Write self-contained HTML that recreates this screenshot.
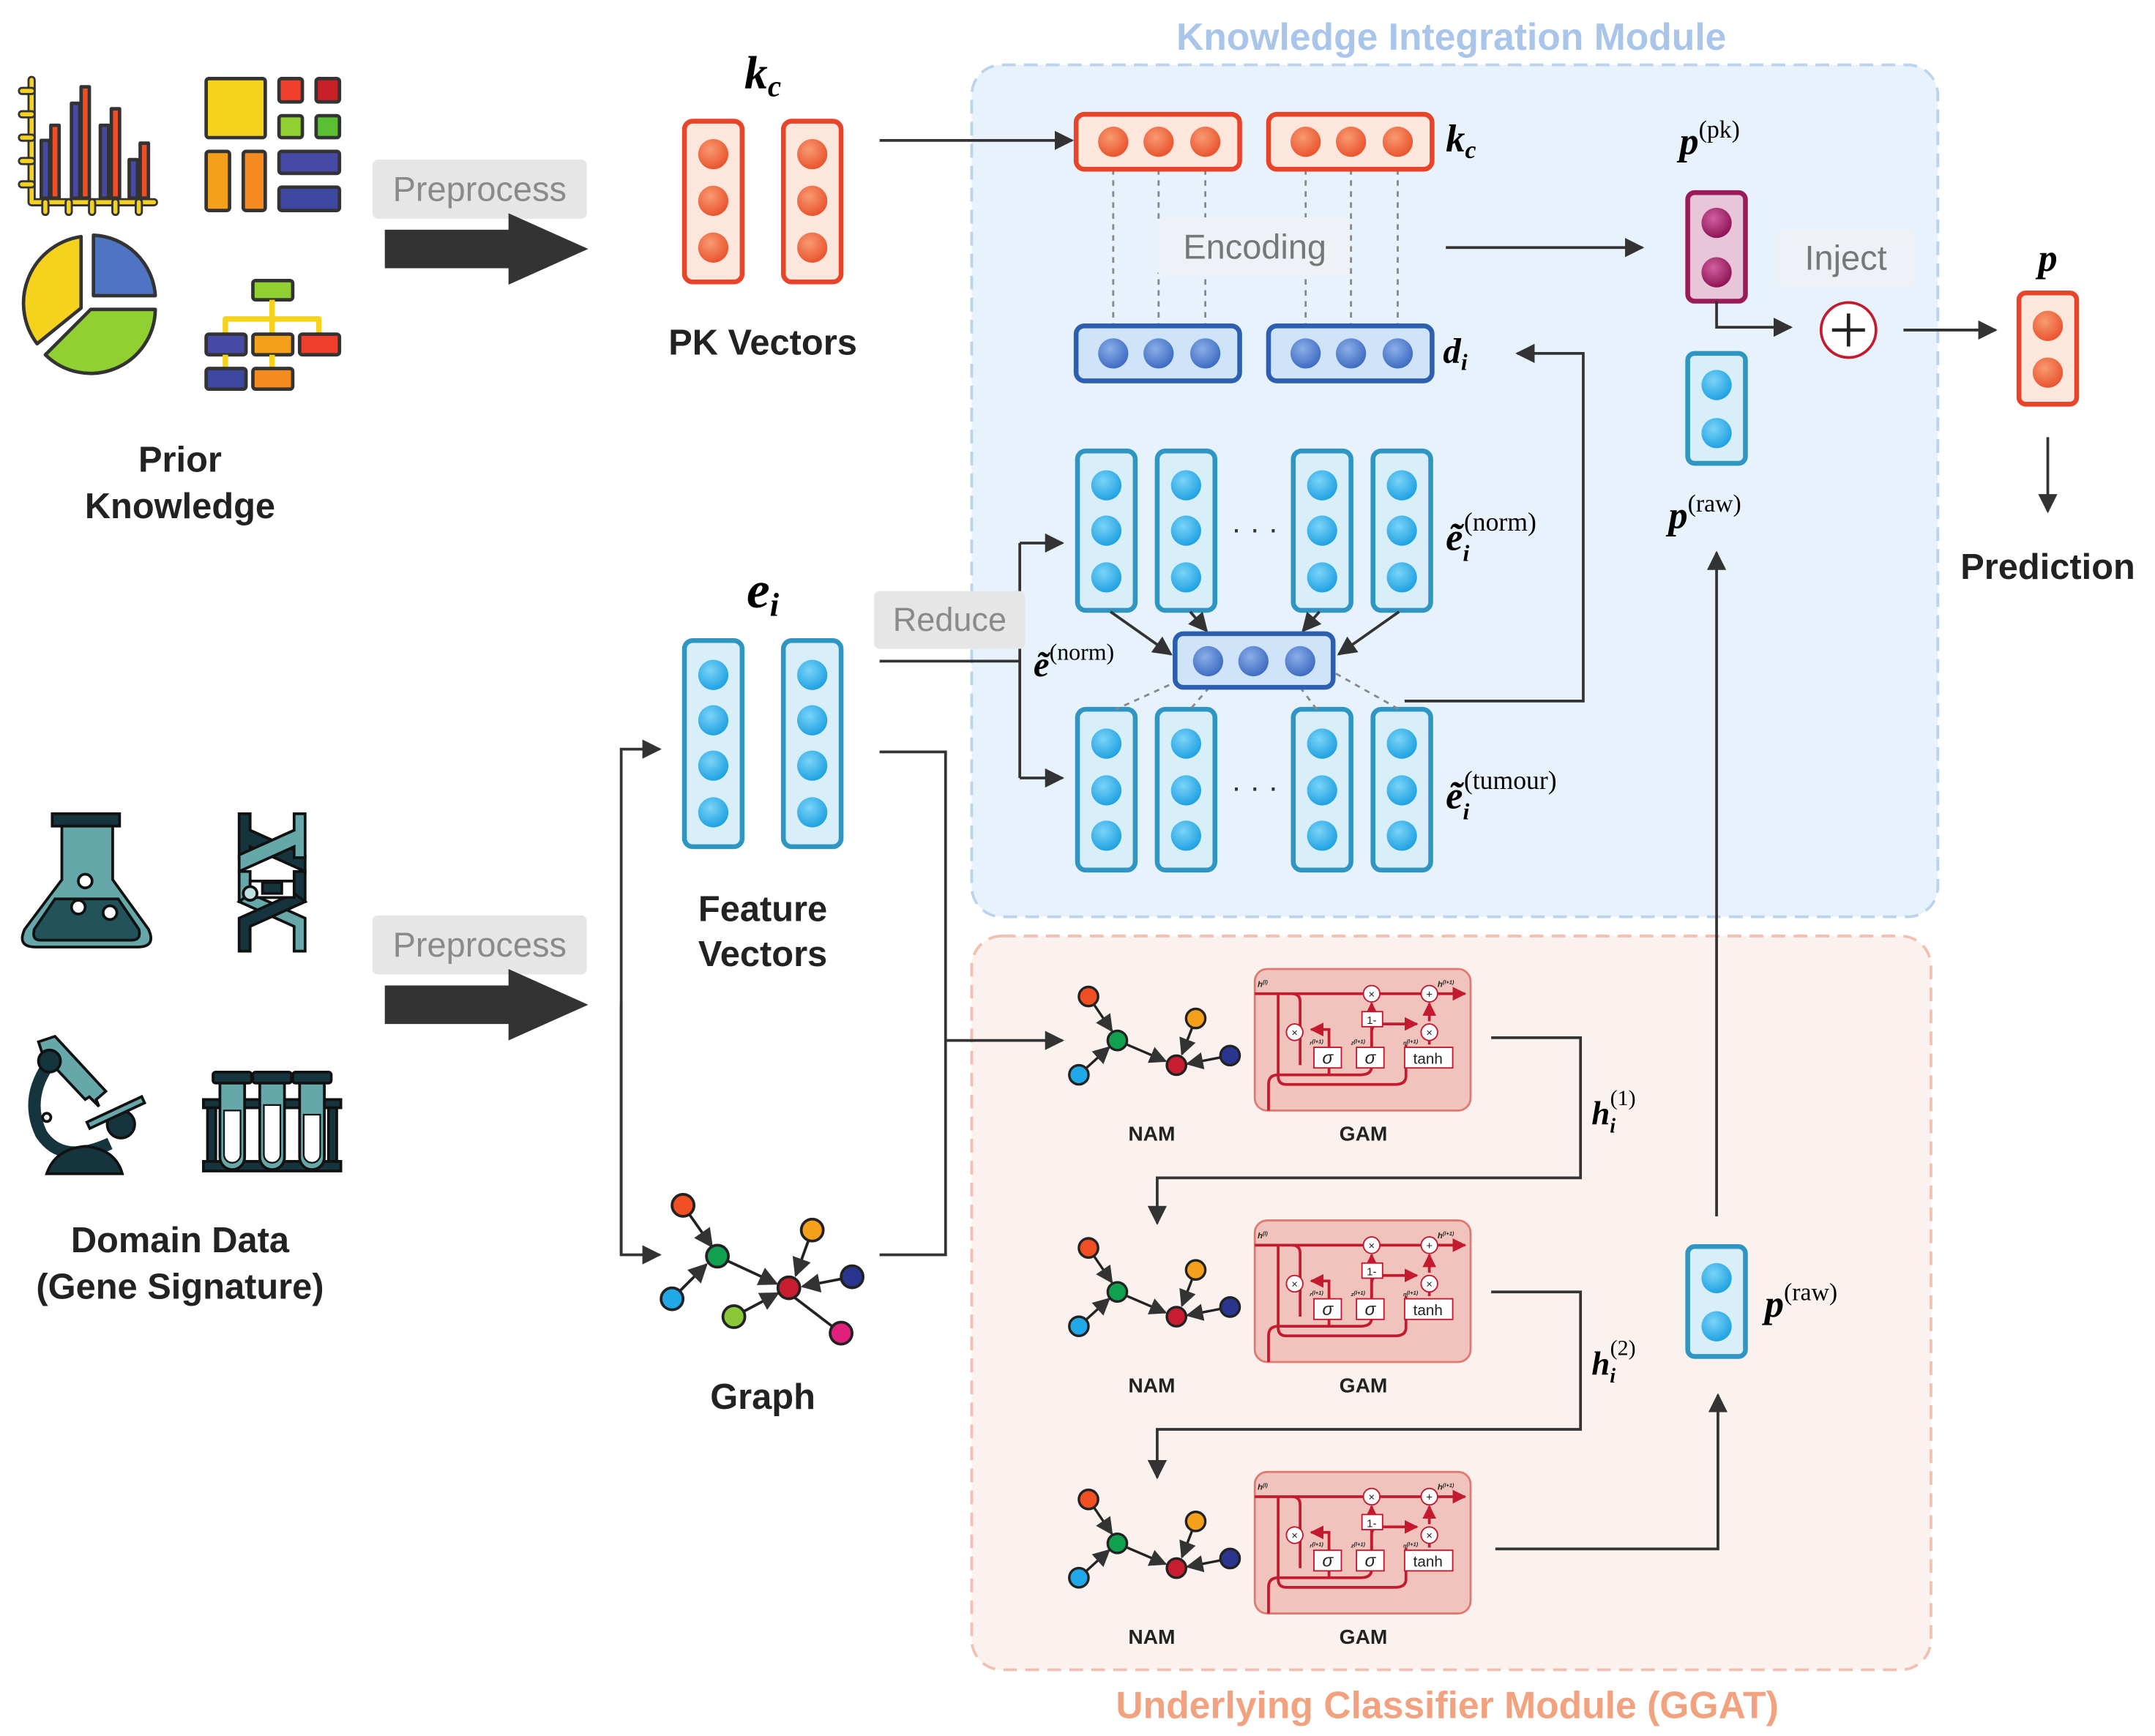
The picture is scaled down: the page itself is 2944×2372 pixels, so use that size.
<!DOCTYPE html>
<html><head><meta charset="utf-8"><style>
html,body{margin:0;padding:0;background:#fff}
svg{display:block}
text{font-family:"Liberation Sans",sans-serif}
.s{font-family:"Liberation Serif",serif;font-style:italic;font-weight:bold}
.sr{font-family:"Liberation Serif",serif}
</style></head><body>
<svg width="2944" height="2372" viewBox="0 0 1568 1263" xmlns="http://www.w3.org/2000/svg">
<defs>
<marker id="ar" viewBox="0 0 10 10" refX="9" refY="5" markerWidth="7" markerHeight="7" orient="auto"><path d="M0,0L10,5L0,10z" fill="#333"/></marker>
<marker id="rr" viewBox="0 0 10 10" refX="9" refY="5" markerWidth="5" markerHeight="5" orient="auto"><path d="M0,0L10,5L0,10z" fill="#c41a30"/></marker>
<radialGradient id="go" cx="0.4" cy="0.35" r="0.7"><stop offset="0" stop-color="#f89a70"/><stop offset="1" stop-color="#e8502a"/></radialGradient>
<radialGradient id="gb" cx="0.4" cy="0.35" r="0.7"><stop offset="0" stop-color="#7ad4f8"/><stop offset="1" stop-color="#1a9ee0"/></radialGradient>
<radialGradient id="gd" cx="0.4" cy="0.35" r="0.7"><stop offset="0" stop-color="#8aaee8"/><stop offset="1" stop-color="#3a68c0"/></radialGradient>
<radialGradient id="gp" cx="0.4" cy="0.35" r="0.7"><stop offset="0" stop-color="#d060a0"/><stop offset="1" stop-color="#8a1050"/></radialGradient>
</defs>

<!-- modules -->
<rect x="707" y="47" width="703" height="620" rx="22" fill="#e8f2fc" stroke="#bcd3ee" stroke-width="2" stroke-dasharray="10 6"/>
<text x="1056" y="36" text-anchor="middle" font-size="27.5" font-weight="bold" fill="#a9c5ea">Knowledge Integration Module</text>
<rect x="707" y="681" width="698" height="534" rx="22" fill="#fbf2ef" stroke="#f2bfb0" stroke-width="2" stroke-dasharray="10 6"/>
<text x="1053" y="1250" text-anchor="middle" font-size="27.5" font-weight="bold" fill="#f2a27e">Underlying Classifier Module (GGAT)</text>

<!-- Prior knowledge icons -->
<g stroke="#333" stroke-width="2.5" stroke-linejoin="round">
<path d="M23,58V147H112" fill="none" stroke="#333" stroke-width="6" stroke-linecap="round"/>
<path d="M23,58V147H112" fill="none" stroke="#f5d31c" stroke-width="3" stroke-linecap="round"/>
<path d="M16,66H23M16,83H23M16,100H23M16,117H23M16,134H23M33,147V154M50,147V154M67,147V154M84,147V154M101,147V154" stroke="#333" stroke-width="6" stroke-linecap="round"/>
<path d="M16,66H23M16,83H23M16,100H23M16,117H23M16,134H23M33,147V154M50,147V154M67,147V154M84,147V154M101,147V154" stroke="#f5d31c" stroke-width="3" stroke-linecap="round"/>
<rect x="30" y="102" width="6" height="42" fill="#464aa4"/>
<rect x="37" y="91" width="6" height="53" fill="#f04e23"/>
<rect x="52" y="75" width="6" height="69" fill="#464aa4"/>
<rect x="59" y="63" width="6" height="81" fill="#f04e23"/>
<rect x="73" y="91" width="6" height="53" fill="#464aa4"/>
<rect x="81" y="79" width="6" height="65" fill="#f04e23"/>
<rect x="94" y="116" width="6" height="28" fill="#464aa4"/>
<rect x="102" y="104" width="6" height="40" fill="#f04e23"/>
<rect x="150" y="57" width="43" height="43" rx="2" fill="#f5d31c"/>
<rect x="203" y="57" width="17" height="17" rx="2" fill="#f0402c"/>
<rect x="230" y="57" width="17" height="17" rx="2" fill="#c82026"/>
<rect x="203" y="84" width="17" height="16" rx="2" fill="#90d030"/>
<rect x="230" y="84" width="17" height="16" rx="2" fill="#5bbf32"/>
<rect x="150" y="110" width="17" height="43" rx="2" fill="#f5a01a"/>
<rect x="177" y="110" width="16" height="43" rx="2" fill="#f58a1e"/>
<rect x="203" y="110" width="44" height="16" rx="2" fill="#474aa4"/>
<rect x="203" y="136" width="44" height="17" rx="2" fill="#3e48a0"/>
<path d="M59,224 V172 A49,49 0 0 0 27,250 Z" fill="#f5d31c"/>
<path d="M68,171 V215 H113 A47,47 0 0 0 68,171 Z" fill="#4f74c4"/>
<path d="M66,225 H113 A47,47 0 0 1 33,258 Z" fill="#90d030"/>
<rect x="184" y="204" width="29" height="14" rx="2" fill="#90d030"/>
<path d="M198,218V232M164,243V232H232V243M198,232V243" fill="none" stroke="#f5d31c" stroke-width="4"/>
<rect x="150" y="243" width="29" height="15" rx="2" fill="#474aa4"/>
<rect x="184" y="243" width="29" height="15" rx="2" fill="#f5a01a"/>
<rect x="218" y="243" width="29" height="15" rx="2" fill="#f0402c"/>
<path d="M164,258V268M198,258V268" stroke="#f5d31c" stroke-width="4"/>
<rect x="150" y="268" width="29" height="15" rx="2" fill="#3e48a0"/>
<rect x="184" y="268" width="29" height="15" rx="2" fill="#f58a1e"/>
</g>
<text x="131" y="343" text-anchor="middle" font-size="26" font-weight="bold" fill="#222">Prior</text>
<text x="131" y="377" text-anchor="middle" font-size="26" font-weight="bold" fill="#222">Knowledge</text>

<!-- Domain data icons -->
<g stroke="#111" stroke-width="2">
<rect x="38" y="592" width="49" height="9" fill="#16343e"/>
<path d="M45,601 H82 V640 L108,676 Q114,689 100,689 H26 Q12,689 18,676 L45,640 Z" fill="#66a8aa"/>
<path d="M40,654 H86 L101,676 Q103,684 96,684 H29 Q23,684 25,676 Z" fill="#22525a"/>
<circle cx="62" cy="641" r="5" fill="#fff"/><circle cx="57" cy="660" r="5" fill="#fff"/><circle cx="80" cy="664" r="5" fill="#fff"/>
<!-- DNA -->
<path d="M174,592h8v12l40,18v12l-40,-18v8h-8z" fill="#16343e"/>
<path d="M222,592h-8v12l-40,18v12l40,-18v8h8z" fill="#66a8aa"/>
<path d="M174,634h8v22h-8z" fill="#66a8aa"/>
<path d="M214,634h8v22h-8z" fill="#16343e"/>
<path d="M174,656l40,18v18h8v-24l-40,-18z" fill="#66a8aa"/>
<path d="M222,656l-40,18v18h-8v-24l40,-18z" fill="#16343e"/>
<rect x="182" y="641" width="32" height="12" fill="#fff"/>
<rect x="191" y="642" width="14" height="8" fill="#16343e"/>
<circle cx="182" cy="650" r="5" fill="#bfe0e0"/>
<!-- microscope -->
<path d="M28,758 L40,754 L77,794 L70,800 L72,805 L65,798 L62,800 L31,767 Z" fill="#66a8aa"/>
<path d="M35,775 Q18,800 30,825 Q45,848 80,832" fill="none" stroke="#16343e" stroke-width="9"/>
<circle cx="36" cy="772" r="8" fill="#16343e"/>
<circle cx="88" cy="818" r="10" fill="#16343e"/>
<rect x="62" y="807" width="44" height="5" fill="#66a8aa" transform="rotate(-25 84 809)"/>
<path d="M34,854 Q40,836 62,834 Q84,836 89,854 Z" fill="#16343e"/>
<circle cx="34" cy="813" r="3" fill="#fff"/>
<rect x="148" y="800" width="100" height="6" fill="#16343e"/>
<rect x="148" y="845" width="100" height="7" fill="#16343e"/>
<rect x="151" y="806" width="6" height="39" fill="#16343e"/><rect x="239" y="806" width="6" height="39" fill="#16343e"/>
<g fill="#66a8aa"><path d="M160,787h18v55a9,9 0 0 1 -18,0z"/><path d="M189,787h18v55a9,9 0 0 1 -18,0z"/><path d="M218,787h18v55a9,9 0 0 1 -18,0z"/></g>
<g fill="#fff" stroke-width="1.2"><path d="M163,808h12v32a6,6 0 0 1 -12,0z"/><path d="M192,804h12v36a6,6 0 0 1 -12,0z"/><path d="M221,811h12v29a6,6 0 0 1 -12,0z"/></g>
<rect x="155" y="780" width="28" height="8" rx="2" fill="#16343e"/><rect x="184" y="780" width="28" height="8" rx="2" fill="#16343e"/><rect x="213" y="780" width="28" height="8" rx="2" fill="#16343e"/>
</g>
<text x="131" y="911" text-anchor="middle" font-size="26" font-weight="bold" fill="#222">Domain Data</text>
<text x="131" y="945" text-anchor="middle" font-size="26" font-weight="bold" fill="#222">(Gene Signature)</text>

<!-- preprocess arrows -->
<rect x="271" y="116" width="156" height="43" rx="4" fill="#e6e6e6"/>
<text x="349" y="146" text-anchor="middle" font-size="25" fill="#8a8a8a">Preprocess</text>
<path d="M280,167H370V155L428,181L370,207V195H280Z" fill="#333"/>
<rect x="271" y="666" width="156" height="43" rx="4" fill="#e6e6e6"/>
<text x="349" y="696" text-anchor="middle" font-size="25" fill="#8a8a8a">Preprocess</text>
<path d="M280,717H370V705L428,731L370,757V745H280Z" fill="#333"/>

<!-- PK vectors -->
<text x="555" y="64" text-anchor="middle" class="s" font-size="34">k<tspan font-size="22" dy="6">c</tspan></text>
<g stroke="#e8442a" stroke-width="3.5" fill="#fde6dc"><rect x="498" y="88" width="42" height="117" rx="6"/><rect x="570" y="88" width="42" height="117" rx="6"/></g>
<g fill="url(#go)"><circle cx="519" cy="112" r="11"/><circle cx="519" cy="146" r="11"/><circle cx="519" cy="180" r="11"/><circle cx="591" cy="112" r="11"/><circle cx="591" cy="146" r="11"/><circle cx="591" cy="180" r="11"/></g>
<text x="555" y="258" text-anchor="middle" font-size="26" font-weight="bold" fill="#222">PK Vectors</text>

<!-- feature vectors -->
<text x="555" y="442" text-anchor="middle" class="s" font-size="38">e<tspan font-size="24" dy="6">i</tspan></text>
<g stroke="#2f96c4" stroke-width="3.5" fill="#d8eef9"><rect x="498" y="466" width="42" height="150" rx="6"/><rect x="570" y="466" width="42" height="150" rx="6"/></g>
<g fill="url(#gb)"><circle cx="519" cy="491" r="11"/><circle cx="519" cy="524" r="11"/><circle cx="519" cy="557" r="11"/><circle cx="519" cy="591" r="11"/><circle cx="591" cy="491" r="11"/><circle cx="591" cy="524" r="11"/><circle cx="591" cy="557" r="11"/><circle cx="591" cy="591" r="11"/></g>
<text x="555" y="670" text-anchor="middle" font-size="26" font-weight="bold" fill="#222">Feature</text>
<text x="555" y="703" text-anchor="middle" font-size="26" font-weight="bold" fill="#222">Vectors</text>

<!-- big graph -->
<g stroke="#222" stroke-width="2" fill="none">
<path d="M497,877L518,907" marker-end="url(#ar)"/><path d="M489,945L514,920" marker-end="url(#ar)"/>
<path d="M522,914L565,934" marker-end="url(#ar)"/><path d="M534,958L566,941" marker-end="url(#ar)"/>
<path d="M591,895L579,928" marker-end="url(#ar)"/><path d="M620,929L584,936" marker-end="url(#ar)"/>
<path d="M612,970L578,944"/>
</g>
<g stroke="#222" stroke-width="2"><circle cx="497" cy="877" r="8" fill="#f04e23"/><circle cx="522" cy="914" r="8" fill="#10a050"/><circle cx="489" cy="945" r="8" fill="#20a8e8"/><circle cx="574" cy="937" r="8" fill="#c81c30"/><circle cx="591" cy="895" r="8" fill="#f5a01a"/><circle cx="620" cy="929" r="8" fill="#2a3590"/><circle cx="534" cy="958" r="8" fill="#8ac83a"/><circle cx="612" cy="970" r="8" fill="#e0207a"/></g>
<text x="555" y="1025" text-anchor="middle" font-size="26" font-weight="bold" fill="#222">Graph</text>

<!-- connectors left -->
<g stroke="#333" stroke-width="2" fill="none">
<path d="M640,102H780" marker-end="url(#ar)"/>
<path d="M452,913V545H480" marker-end="url(#ar)"/>
<path d="M452,730V913H480" marker-end="url(#ar)"/>
<path d="M640,547H688V913H640"/>
<path d="M688,757H773" marker-end="url(#ar)"/>
<path d="M640,481H742"/>
<path d="M742,395V566"/>
<path d="M742,395H773" marker-end="url(#ar)"/>
<path d="M742,566H773" marker-end="url(#ar)"/>
</g>
<rect x="636" y="430" width="110" height="42" rx="4" fill="#e6e6e6"/>
<text x="691" y="459" text-anchor="middle" font-size="24" fill="#8a8a8a">Reduce</text>
<text x="752" y="492" class="sr" font-size="26" font-style="italic" font-weight="bold">ẽ<tspan font-size="17" dy="-12" font-style="normal" font-weight="normal">(norm)</tspan></text>

<!-- kc and d_i -->
<g stroke="#888" stroke-width="1.5" stroke-dasharray="4 4">
<path d="M810,123V237M843,123V237M877,123V237M950,123V237M983,123V237M1017,123V237"/>
</g>
<g stroke="#e8442a" stroke-width="3.5" fill="#fde6dc"><rect x="783" y="83" width="119" height="40" rx="6"/><rect x="923" y="83" width="119" height="40" rx="6"/></g>
<g fill="url(#go)"><circle cx="810" cy="103" r="11"/><circle cx="843" cy="103" r="11"/><circle cx="877" cy="103" r="11"/><circle cx="950" cy="103" r="11"/><circle cx="983" cy="103" r="11"/><circle cx="1017" cy="103" r="11"/></g>
<text x="1052" y="110" class="s" font-size="28">k<tspan font-size="18" dy="5">c</tspan></text>
<rect x="842" y="158" width="140" height="42" rx="4" fill="#eef2f7"/>
<text x="913" y="188" text-anchor="middle" font-size="25" fill="#777">Encoding</text>
<g stroke="#2d5fb0" stroke-width="3.5" fill="#cfe4f8"><rect x="783" y="237" width="119" height="40" rx="6"/><rect x="923" y="237" width="119" height="40" rx="6"/></g>
<g fill="url(#gd)"><circle cx="810" cy="257" r="11"/><circle cx="843" cy="257" r="11"/><circle cx="877" cy="257" r="11"/><circle cx="950" cy="257" r="11"/><circle cx="983" cy="257" r="11"/><circle cx="1017" cy="257" r="11"/></g>
<text x="1050" y="264" class="s" font-size="26">d<tspan font-size="17" dy="5">i</tspan></text>

<!-- e norm / tumour vectors -->
<g stroke="#2f96c4" stroke-width="3.5" fill="#d8eef9">
<rect x="784" y="328" width="42" height="116" rx="6"/><rect x="842" y="328" width="42" height="116" rx="6"/><rect x="941" y="328" width="42" height="116" rx="6"/><rect x="999" y="328" width="42" height="116" rx="6"/>
<rect x="784" y="516" width="42" height="117" rx="6"/><rect x="842" y="516" width="42" height="117" rx="6"/><rect x="941" y="516" width="42" height="117" rx="6"/><rect x="999" y="516" width="42" height="117" rx="6"/>
</g>
<g fill="url(#gb)">
<circle cx="805" cy="353" r="11"/><circle cx="805" cy="386" r="11"/><circle cx="805" cy="420" r="11"/>
<circle cx="863" cy="353" r="11"/><circle cx="863" cy="386" r="11"/><circle cx="863" cy="420" r="11"/>
<circle cx="962" cy="353" r="11"/><circle cx="962" cy="386" r="11"/><circle cx="962" cy="420" r="11"/>
<circle cx="1020" cy="353" r="11"/><circle cx="1020" cy="386" r="11"/><circle cx="1020" cy="420" r="11"/>
<circle cx="805" cy="541" r="11"/><circle cx="805" cy="575" r="11"/><circle cx="805" cy="608" r="11"/>
<circle cx="863" cy="541" r="11"/><circle cx="863" cy="575" r="11"/><circle cx="863" cy="608" r="11"/>
<circle cx="962" cy="541" r="11"/><circle cx="962" cy="575" r="11"/><circle cx="962" cy="608" r="11"/>
<circle cx="1020" cy="541" r="11"/><circle cx="1020" cy="575" r="11"/><circle cx="1020" cy="608" r="11"/>
</g>
<text x="913" y="392" text-anchor="middle" font-size="22" fill="#333">· · ·</text>
<text x="913" y="580" text-anchor="middle" font-size="22" fill="#333">· · ·</text>
<text x="1052" y="400" class="sr" font-size="28" font-style="italic" font-weight="bold">ẽ<tspan font-size="17" dy="8">i</tspan><tspan font-size="19" dx="-4" dy="-22" font-style="normal" font-weight="normal">(norm)</tspan></text>
<text x="1052" y="588" class="sr" font-size="28" font-style="italic" font-weight="bold">ẽ<tspan font-size="17" dy="8">i</tspan><tspan font-size="19" dx="-4" dy="-22" font-style="normal" font-weight="normal">(tumour)</tspan></text>
<g stroke="#333" stroke-width="2" fill="none">
<path d="M808,445L852,476" marker-end="url(#ar)"/><path d="M866,445L878,459" marker-end="url(#ar)"/>
<path d="M960,445L948,459" marker-end="url(#ar)"/><path d="M1018,445L974,476" marker-end="url(#ar)"/>
</g>
<g stroke="#888" stroke-width="1.5" stroke-dasharray="4 4"><path d="M858,495L812,516M880,500L866,516M946,500L958,516M972,490L1018,516"/></g>
<rect x="855" y="461" width="115" height="39" rx="6" fill="#cfe4f8" stroke="#2d5fb0" stroke-width="3.5"/>
<g fill="url(#gd)"><circle cx="879" cy="481" r="11"/><circle cx="912" cy="481" r="11"/><circle cx="946" cy="481" r="11"/></g>
<path d="M1022,510H1152V257H1104" stroke="#333" stroke-width="2" fill="none" marker-end="url(#ar)"/>
<path d="M1052,180H1195" stroke="#333" stroke-width="2" fill="none" marker-end="url(#ar)"/>

<!-- p vectors -->
<text x="1222" y="112" class="s" font-size="28">p<tspan font-size="18" dy="-12" font-style="normal" font-weight="normal" class="sr">(pk)</tspan></text>
<rect x="1228" y="140" width="42" height="79" rx="5" fill="#e8c6da" stroke="#9a1a5a" stroke-width="3.5"/>
<circle cx="1249" cy="162" r="11" fill="url(#gp)"/><circle cx="1249" cy="198" r="11" fill="url(#gp)"/>
<rect x="1228" y="257" width="42" height="80" rx="5" fill="#d8eef9" stroke="#2f96c4" stroke-width="3.5"/>
<circle cx="1249" cy="280" r="11" fill="url(#gb)"/><circle cx="1249" cy="315" r="11" fill="url(#gb)"/>
<text x="1214" y="384" class="s" font-size="28">p<tspan font-size="18" dy="-12" font-style="normal" font-weight="normal" class="sr">(raw)</tspan></text>
<path d="M1249,219V238H1303" stroke="#333" stroke-width="2" fill="none" marker-end="url(#ar)"/>
<rect x="1293" y="167" width="100" height="41" rx="4" fill="#eef2f7"/>
<text x="1343" y="196" text-anchor="middle" font-size="25" fill="#777">Inject</text>
<circle cx="1345" cy="240" r="20" fill="#fff" stroke="#c41a30" stroke-width="2"/>
<path d="M1333,240H1357M1345,228V252" stroke="#222" stroke-width="2.5"/>
<path d="M1385,240H1452" stroke="#333" stroke-width="2" fill="none" marker-end="url(#ar)"/>
<text x="1483" y="197" class="s" font-size="28">p</text>
<rect x="1469" y="213" width="42" height="81" rx="5" fill="#fde6dc" stroke="#e8442a" stroke-width="3.5"/>
<circle cx="1490" cy="237" r="11" fill="url(#go)"/><circle cx="1490" cy="271" r="11" fill="url(#go)"/>
<path d="M1490,318V372" stroke="#333" stroke-width="2" fill="none" marker-end="url(#ar)"/>
<text x="1490" y="421" text-anchor="middle" font-size="26" font-weight="bold" fill="#222">Prediction</text>
<path d="M1249,885V402" stroke="#333" stroke-width="2" fill="none" marker-end="url(#ar)"/>
<rect x="1228" y="907" width="42" height="80" rx="5" fill="#d8eef9" stroke="#2f96c4" stroke-width="3.5"/>
<circle cx="1249" cy="930" r="11" fill="url(#gb)"/><circle cx="1249" cy="965" r="11" fill="url(#gb)"/>
<text x="1284" y="958" class="s" font-size="28">p<tspan font-size="18" dy="-12" font-style="normal" font-weight="normal" class="sr">(raw)</tspan></text>

<!-- classifier connectors -->
<g stroke="#333" stroke-width="2" fill="none">
<path d="M1085,755H1150V857H842V890" marker-end="url(#ar)"/>
<path d="M1085,940H1150V1040H842V1075" marker-end="url(#ar)"/>
<path d="M1088,1127H1250V1015" marker-end="url(#ar)"/>
</g>
<text x="1158" y="818" class="s" font-size="24">h<tspan font-size="15" dy="6">i</tspan><tspan font-size="16" dx="-4" dy="-20" font-style="normal" font-weight="normal" class="sr">(1)</tspan></text>
<text x="1158" y="1000" class="s" font-size="24">h<tspan font-size="15" dy="6">i</tspan><tspan font-size="16" dx="-4" dy="-20" font-style="normal" font-weight="normal" class="sr">(2)</tspan></text>

<!-- NAM + GAM rows -->
<g>
<g stroke="#222" stroke-width="1.8" fill="none">
<path d="M792,725L809,750" marker-end="url(#ar)"/><path d="M785,782L807,762" marker-end="url(#ar)"/>
<path d="M813,757L848,772" marker-end="url(#ar)"/><path d="M870,741L860,767" marker-end="url(#ar)"/><path d="M895,768L864,774" marker-end="url(#ar)"/>
</g>
<g stroke="#222" stroke-width="1.8"><circle cx="792" cy="725" r="7" fill="#f04e23"/><circle cx="813" cy="757" r="7" fill="#10a050"/><circle cx="785" cy="782" r="7" fill="#20a8e8"/><circle cx="856" cy="775" r="7" fill="#c81c30"/><circle cx="870" cy="741" r="7" fill="#f5a01a"/><circle cx="895" cy="768" r="7" fill="#2a3590"/></g>
<text x="838" y="830" text-anchor="middle" font-size="15" font-weight="bold" fill="#222">NAM</text>
<text x="992" y="830" text-anchor="middle" font-size="15" font-weight="bold" fill="#222">GAM</text>
<g transform="translate(913,705)">
<rect x="0" y="0" width="157" height="103" rx="9" fill="#f0c4bc" stroke="#e07a70" stroke-width="1.5"/>
<g stroke="#c41a30" stroke-width="2" fill="none">
<path d="M0,18H153" marker-end="url(#rr)"/>
<path d="M27,18Q33,18 33,24V70"/>
<path d="M17,18V78Q17,84 23,84H102Q110,84 110,78V55"/>
<path d="M10,103V84Q10,77 17,77H77Q85,77 85,71V30"/>
<path d="M85,58V46Q85,40 91,40H118" marker-end="url(#rr)"/>
<path d="M54,77V44H41" marker-end="url(#rr)"/>
<path d="M85,31V25" marker-end="url(#rr)"/>
<path d="M127,38V25" marker-end="url(#rr)"/>
<path d="M127,52V55"/>
</g>
<g fill="#fff" stroke="#c41a30" stroke-width="1"><circle cx="85" cy="18" r="6"/><circle cx="127" cy="18" r="6"/><circle cx="29" cy="46" r="6"/><circle cx="127" cy="46" r="6"/>
<rect x="78" y="31" width="15" height="11"/><rect x="43" y="57" width="20" height="15"/><rect x="74" y="57" width="20" height="15"/><rect x="109" y="57" width="35" height="15"/></g>
<g font-size="8" fill="#222" text-anchor="middle"><text x="85" y="21">×</text><text x="127" y="21">+</text><text x="29" y="49">×</text><text x="127" y="49">×</text><text x="85" y="40">1-</text><text x="126" y="69" font-size="11">tanh</text></g>
<g font-family="Liberation Serif" font-style="italic" font-size="13" text-anchor="middle" fill="#222"><text x="53" y="69">σ</text><text x="84" y="69">σ</text></g>
<g font-family="Liberation Serif" font-style="italic" font-weight="bold" font-size="6" fill="#222"><text x="2" y="13">h<tspan font-size="4" dy="-2">(l)</tspan></text><text x="133" y="13">h<tspan font-size="4" dy="-2">(l+1)</tspan></text><text x="40" y="55" font-size="4">r<tspan dy="-1">(l+1)</tspan></text><text x="70" y="55" font-size="4">z<tspan dy="-1">(l+1)</tspan></text><text x="108" y="55" font-size="4">n<tspan dy="-1">(l+1)</tspan></text></g>
</g>
</g>

<g transform="translate(0,183)">
<g stroke="#222" stroke-width="1.8" fill="none">
<path d="M792,725L809,750" marker-end="url(#ar)"/><path d="M785,782L807,762" marker-end="url(#ar)"/>
<path d="M813,757L848,772" marker-end="url(#ar)"/><path d="M870,741L860,767" marker-end="url(#ar)"/><path d="M895,768L864,774" marker-end="url(#ar)"/>
</g>
<g stroke="#222" stroke-width="1.8"><circle cx="792" cy="725" r="7" fill="#f04e23"/><circle cx="813" cy="757" r="7" fill="#10a050"/><circle cx="785" cy="782" r="7" fill="#20a8e8"/><circle cx="856" cy="775" r="7" fill="#c81c30"/><circle cx="870" cy="741" r="7" fill="#f5a01a"/><circle cx="895" cy="768" r="7" fill="#2a3590"/></g>
<text x="838" y="830" text-anchor="middle" font-size="15" font-weight="bold" fill="#222">NAM</text>
<text x="992" y="830" text-anchor="middle" font-size="15" font-weight="bold" fill="#222">GAM</text>
<g transform="translate(913,705)">
<rect x="0" y="0" width="157" height="103" rx="9" fill="#f0c4bc" stroke="#e07a70" stroke-width="1.5"/>
<g stroke="#c41a30" stroke-width="2" fill="none">
<path d="M0,18H153" marker-end="url(#rr)"/>
<path d="M27,18Q33,18 33,24V70"/>
<path d="M17,18V78Q17,84 23,84H102Q110,84 110,78V55"/>
<path d="M10,103V84Q10,77 17,77H77Q85,77 85,71V30"/>
<path d="M85,58V46Q85,40 91,40H118" marker-end="url(#rr)"/>
<path d="M54,77V44H41" marker-end="url(#rr)"/>
<path d="M85,31V25" marker-end="url(#rr)"/>
<path d="M127,38V25" marker-end="url(#rr)"/>
<path d="M127,52V55"/>
</g>
<g fill="#fff" stroke="#c41a30" stroke-width="1"><circle cx="85" cy="18" r="6"/><circle cx="127" cy="18" r="6"/><circle cx="29" cy="46" r="6"/><circle cx="127" cy="46" r="6"/>
<rect x="78" y="31" width="15" height="11"/><rect x="43" y="57" width="20" height="15"/><rect x="74" y="57" width="20" height="15"/><rect x="109" y="57" width="35" height="15"/></g>
<g font-size="8" fill="#222" text-anchor="middle"><text x="85" y="21">×</text><text x="127" y="21">+</text><text x="29" y="49">×</text><text x="127" y="49">×</text><text x="85" y="40">1-</text><text x="126" y="69" font-size="11">tanh</text></g>
<g font-family="Liberation Serif" font-style="italic" font-size="13" text-anchor="middle" fill="#222"><text x="53" y="69">σ</text><text x="84" y="69">σ</text></g>
<g font-family="Liberation Serif" font-style="italic" font-weight="bold" font-size="6" fill="#222"><text x="2" y="13">h<tspan font-size="4" dy="-2">(l)</tspan></text><text x="133" y="13">h<tspan font-size="4" dy="-2">(l+1)</tspan></text><text x="40" y="55" font-size="4">r<tspan dy="-1">(l+1)</tspan></text><text x="70" y="55" font-size="4">z<tspan dy="-1">(l+1)</tspan></text><text x="108" y="55" font-size="4">n<tspan dy="-1">(l+1)</tspan></text></g>
</g>
</g>

<g transform="translate(0,366)">
<g stroke="#222" stroke-width="1.8" fill="none">
<path d="M792,725L809,750" marker-end="url(#ar)"/><path d="M785,782L807,762" marker-end="url(#ar)"/>
<path d="M813,757L848,772" marker-end="url(#ar)"/><path d="M870,741L860,767" marker-end="url(#ar)"/><path d="M895,768L864,774" marker-end="url(#ar)"/>
</g>
<g stroke="#222" stroke-width="1.8"><circle cx="792" cy="725" r="7" fill="#f04e23"/><circle cx="813" cy="757" r="7" fill="#10a050"/><circle cx="785" cy="782" r="7" fill="#20a8e8"/><circle cx="856" cy="775" r="7" fill="#c81c30"/><circle cx="870" cy="741" r="7" fill="#f5a01a"/><circle cx="895" cy="768" r="7" fill="#2a3590"/></g>
<text x="838" y="830" text-anchor="middle" font-size="15" font-weight="bold" fill="#222">NAM</text>
<text x="992" y="830" text-anchor="middle" font-size="15" font-weight="bold" fill="#222">GAM</text>
<g transform="translate(913,705)">
<rect x="0" y="0" width="157" height="103" rx="9" fill="#f0c4bc" stroke="#e07a70" stroke-width="1.5"/>
<g stroke="#c41a30" stroke-width="2" fill="none">
<path d="M0,18H153" marker-end="url(#rr)"/>
<path d="M27,18Q33,18 33,24V70"/>
<path d="M17,18V78Q17,84 23,84H102Q110,84 110,78V55"/>
<path d="M10,103V84Q10,77 17,77H77Q85,77 85,71V30"/>
<path d="M85,58V46Q85,40 91,40H118" marker-end="url(#rr)"/>
<path d="M54,77V44H41" marker-end="url(#rr)"/>
<path d="M85,31V25" marker-end="url(#rr)"/>
<path d="M127,38V25" marker-end="url(#rr)"/>
<path d="M127,52V55"/>
</g>
<g fill="#fff" stroke="#c41a30" stroke-width="1"><circle cx="85" cy="18" r="6"/><circle cx="127" cy="18" r="6"/><circle cx="29" cy="46" r="6"/><circle cx="127" cy="46" r="6"/>
<rect x="78" y="31" width="15" height="11"/><rect x="43" y="57" width="20" height="15"/><rect x="74" y="57" width="20" height="15"/><rect x="109" y="57" width="35" height="15"/></g>
<g font-size="8" fill="#222" text-anchor="middle"><text x="85" y="21">×</text><text x="127" y="21">+</text><text x="29" y="49">×</text><text x="127" y="49">×</text><text x="85" y="40">1-</text><text x="126" y="69" font-size="11">tanh</text></g>
<g font-family="Liberation Serif" font-style="italic" font-size="13" text-anchor="middle" fill="#222"><text x="53" y="69">σ</text><text x="84" y="69">σ</text></g>
<g font-family="Liberation Serif" font-style="italic" font-weight="bold" font-size="6" fill="#222"><text x="2" y="13">h<tspan font-size="4" dy="-2">(l)</tspan></text><text x="133" y="13">h<tspan font-size="4" dy="-2">(l+1)</tspan></text><text x="40" y="55" font-size="4">r<tspan dy="-1">(l+1)</tspan></text><text x="70" y="55" font-size="4">z<tspan dy="-1">(l+1)</tspan></text><text x="108" y="55" font-size="4">n<tspan dy="-1">(l+1)</tspan></text></g>
</g>
</g>
</svg>
</body></html>
